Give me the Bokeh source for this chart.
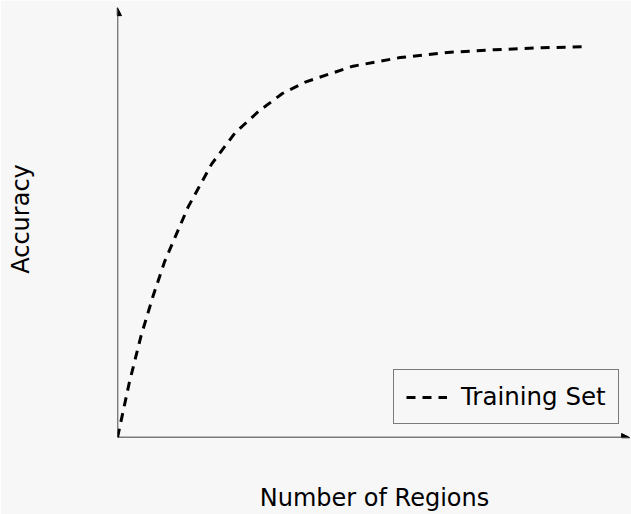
from bokeh.plotting import figure
from bokeh.models import Arrow, NormalHead, FixedTicker, Legend, LegendItem, Range1d
from bokeh.embed import file_html
from bokeh.resources import INLINE

# Data (x: number of regions, arbitrary units; y: accuracy)
regions = [0, 0.25, 0.5, 0.75, 1, 1.5, 2, 2.5, 3, 3.5, 4, 5, 6, 7, 8, 9, 10]
accuracy = [0, 0.14, 0.26, 0.36, 0.45, 0.59, 0.70, 0.78, 0.835, 0.88, 0.91,
            0.95, 0.972, 0.985, 0.992, 0.997, 1.0]
series_name = "Training Set"
x_label = "Number of Regions"
y_label = "Accuracy"

BG = "#f7f7f7"
FONT = "DejaVu Sans"
X_END = 10.91
Y_END = 1.118

p = figure(width=631, height=514, output_backend="svg", toolbar_location=None,
           x_range=Range1d(0, X_END), y_range=Range1d(0, Y_END),
           min_border_left=117, min_border_right=0, min_border_top=0,
           min_border_bottom=77)
p.background_fill_color = BG
p.border_fill_color = BG
p.outline_line_color = None
p.grid.visible = False

for ax in (p.xaxis[0], p.yaxis[0]):
    ax.ticker = FixedTicker(ticks=[])
    ax.axis_line_color = None
    ax.major_tick_line_color = None
    ax.minor_tick_line_color = None
    ax.major_label_text_font_size = "0px"
    ax.axis_label_text_font = FONT
    ax.axis_label_text_font_style = "normal"
    ax.axis_label_text_font_size = "24px"
    ax.axis_label_text_color = "black"

p.xaxis.axis_label = x_label
p.yaxis.axis_label = y_label
p.xaxis.axis_label_standoff = 46
p.yaxis.axis_label_standoff = 83

# axes with arrow heads
p.add_layout(Arrow(end=NormalHead(size=8, fill_color="black", line_color="black", line_width=1),
                   x_start=0, y_start=0, x_end=10.87, y_end=0,
                   line_color="black", line_width=1.4))
p.add_layout(Arrow(end=NormalHead(size=8, fill_color="black", line_color="black", line_width=1),
                   x_start=0, y_start=0, x_end=0, y_end=1.0997,
                   line_color="black", line_width=1.4))

r = p.line(regions, accuracy, line_color="black", line_width=3, line_dash="9 7")

legend = Legend(items=[LegendItem(label=series_name, renderers=[r])],
                location=(276, 13))
legend.border_line_color = "black"
legend.border_line_width = 1.3
legend.background_fill_color = BG
legend.background_fill_alpha = 1
legend.label_text_font = FONT
legend.label_text_font_size = "24.5px"
legend.label_text_color = "black"
legend.glyph_width = 41
legend.glyph_height = 22
legend.label_height = 22
legend.label_standoff = 14
legend.padding = 12
legend.margin = 0
p.add_layout(legend)

open("out.html", "w").write(file_html(p, INLINE))
